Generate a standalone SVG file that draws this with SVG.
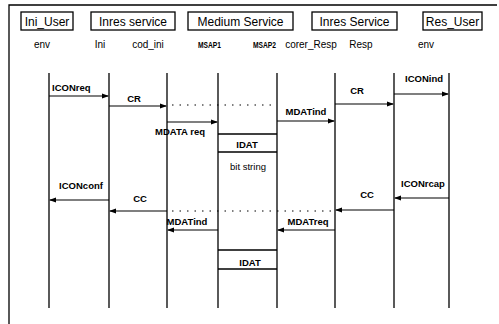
<svg xmlns="http://www.w3.org/2000/svg" width="499" height="324" viewBox="0 0 499 324">
<style>
.hdr{font-family:"Liberation Sans",Arial,sans-serif;font-size:12px;fill:#000}
.inst{font-family:"Liberation Sans",Arial,sans-serif;font-size:10px;fill:#000}
.msap{font-family:"Liberation Sans",Arial,sans-serif;font-size:8.5px;font-weight:bold;fill:#000}
.lbl{font-family:"Liberation Sans",Arial,sans-serif;font-size:9.5px;font-weight:bold;fill:#000}
.note{font-family:"Liberation Sans",Arial,sans-serif;font-size:9.5px;fill:#000}
.box{fill:#fff;stroke:#000;stroke-width:1.3}
.life{stroke:#000;stroke-width:1.3;fill:none}
.msg{stroke:#000;stroke-width:1.2;fill:none}
.dot{stroke:#000;stroke-width:1;stroke-dasharray:1.5 6;fill:none}
.band{stroke:#000;stroke-width:1.3;fill:none}
</style>
<defs>
<marker id="ah" markerWidth="7" markerHeight="6" refX="6" refY="3" orient="auto" markerUnits="userSpaceOnUse">
<path d="M0,0.5 L7,3 L0,5.5 Z" fill="#000"/>
</marker>
</defs>
<rect width="499" height="324" fill="#fff"/>
<g id="frame">
<path d="M9,324 L9,5 L497,5" class="life"/>
</g>
<g id="headers">
<g id="h-ini-user"><rect class="box" x="21" y="12" width="52" height="18"/><text class="hdr" x="47" y="25.5" text-anchor="middle">Ini_User</text></g>
<g id="h-inres-service"><rect class="box" x="91" y="12" width="84" height="18"/><text class="hdr" x="133" y="25.5" text-anchor="middle">Inres service</text></g>
<g id="h-medium-service"><rect class="box" x="188" y="12" width="105" height="18"/><text class="hdr" x="240.5" y="25.5" text-anchor="middle">Medium Service</text></g>
<g id="h-inres-service2"><rect class="box" x="312" y="12" width="85" height="18"/><text class="hdr" x="354.5" y="25.5" text-anchor="middle">Inres Service</text></g>
<g id="h-res-user"><rect class="box" x="423" y="12" width="59" height="18"/><text class="hdr" x="452.5" y="25.5" text-anchor="middle">Res_User</text></g>
</g>
<g id="instances">
<g id="i-env1"><text class="inst" x="42" y="48" text-anchor="middle">env</text><line class="life" x1="49" y1="73" x2="49" y2="308"/></g>
<g id="i-ini"><text class="inst" x="100" y="48" text-anchor="middle">Ini</text><line class="life" x1="109" y1="73" x2="109" y2="308"/></g>
<g id="i-cod-ini"><text class="inst" x="148" y="48" text-anchor="middle">cod_ini</text><line class="life" x1="167" y1="73" x2="167" y2="308"/></g>
<g id="i-msap1"><text class="msap" x="198" y="48" textLength="23" lengthAdjust="spacingAndGlyphs">MSAP1</text><line class="life" x1="218" y1="73" x2="218" y2="308"/></g>
<g id="i-msap2"><text class="msap" x="253" y="48" textLength="23" lengthAdjust="spacingAndGlyphs">MSAP2</text><line class="life" x1="277" y1="73" x2="277" y2="308"/></g>
<g id="i-corer-resp"><text class="inst" x="311" y="48" text-anchor="middle">corer_Resp</text><line class="life" x1="335" y1="73" x2="335" y2="308"/></g>
<g id="i-resp"><text class="inst" x="361" y="48" text-anchor="middle">Resp</text><line class="life" x1="394" y1="73" x2="394" y2="308"/></g>
<g id="i-env2"><text class="inst" x="426" y="48" text-anchor="middle">env</text><line class="life" x1="449" y1="73" x2="449" y2="308"/></g>
</g>
<g id="connectors">
<line class="msg" x1="49" y1="96" x2="108" y2="96" marker-end="url(#ah)"/>
<text class="lbl" x="52" y="91">ICONreq</text>
<line class="msg" x1="109" y1="106" x2="166" y2="106" marker-end="url(#ah)"/>
<text class="lbl" x="134" y="102" text-anchor="middle">CR</text>
<line class="dot" x1="172" y1="105" x2="277" y2="105"/>
<line class="msg" x1="167" y1="122" x2="217" y2="122" marker-end="url(#ah)"/>
<text class="lbl" x="180" y="135" text-anchor="middle">MDATA req</text>
<line class="msg" x1="277" y1="121" x2="334" y2="121" marker-end="url(#ah)"/>
<text class="lbl" x="306" y="115" text-anchor="middle">MDATind</text>
<line class="msg" x1="335" y1="104" x2="393" y2="104" marker-end="url(#ah)"/>
<text class="lbl" x="357" y="94" text-anchor="middle">CR</text>
<line class="msg" x1="394" y1="94" x2="448" y2="94" marker-end="url(#ah)"/>
<text class="lbl" x="424" y="82" text-anchor="middle">ICONind</text>
<line class="band" x1="218" y1="134" x2="277" y2="134"/>
<line class="band" x1="218" y1="152" x2="277" y2="152"/>
<text class="lbl" x="247" y="148" text-anchor="middle">IDAT</text>
<text class="note" x="248" y="170" text-anchor="middle">bit string</text>
<line class="msg" x1="109" y1="200" x2="50" y2="200" marker-end="url(#ah)"/>
<text class="lbl" x="81" y="189" text-anchor="middle">ICONconf</text>
<line class="msg" x1="167" y1="211" x2="110" y2="211" marker-end="url(#ah)"/>
<text class="lbl" x="140" y="202" text-anchor="middle">CC</text>
<line class="dot" x1="172" y1="211" x2="335" y2="211"/>
<line class="msg" x1="218" y1="230" x2="168" y2="230" marker-end="url(#ah)"/>
<text class="lbl" x="187" y="225" text-anchor="middle">MDATind</text>
<line class="msg" x1="335" y1="230" x2="278" y2="230" marker-end="url(#ah)"/>
<text class="lbl" x="308" y="225" text-anchor="middle">MDATreq</text>
<line class="msg" x1="449" y1="198" x2="395" y2="198" marker-end="url(#ah)"/>
<text class="lbl" x="423" y="187" text-anchor="middle">ICONrcap</text>
<line class="msg" x1="394" y1="210" x2="336" y2="210" marker-end="url(#ah)"/>
<text class="lbl" x="367" y="198" text-anchor="middle">CC</text>
<line class="band" x1="218" y1="250" x2="277" y2="250"/>
<line class="band" x1="218" y1="269" x2="277" y2="269"/>
<text class="lbl" x="250" y="266" text-anchor="middle">IDAT</text>
</g>
</svg>
